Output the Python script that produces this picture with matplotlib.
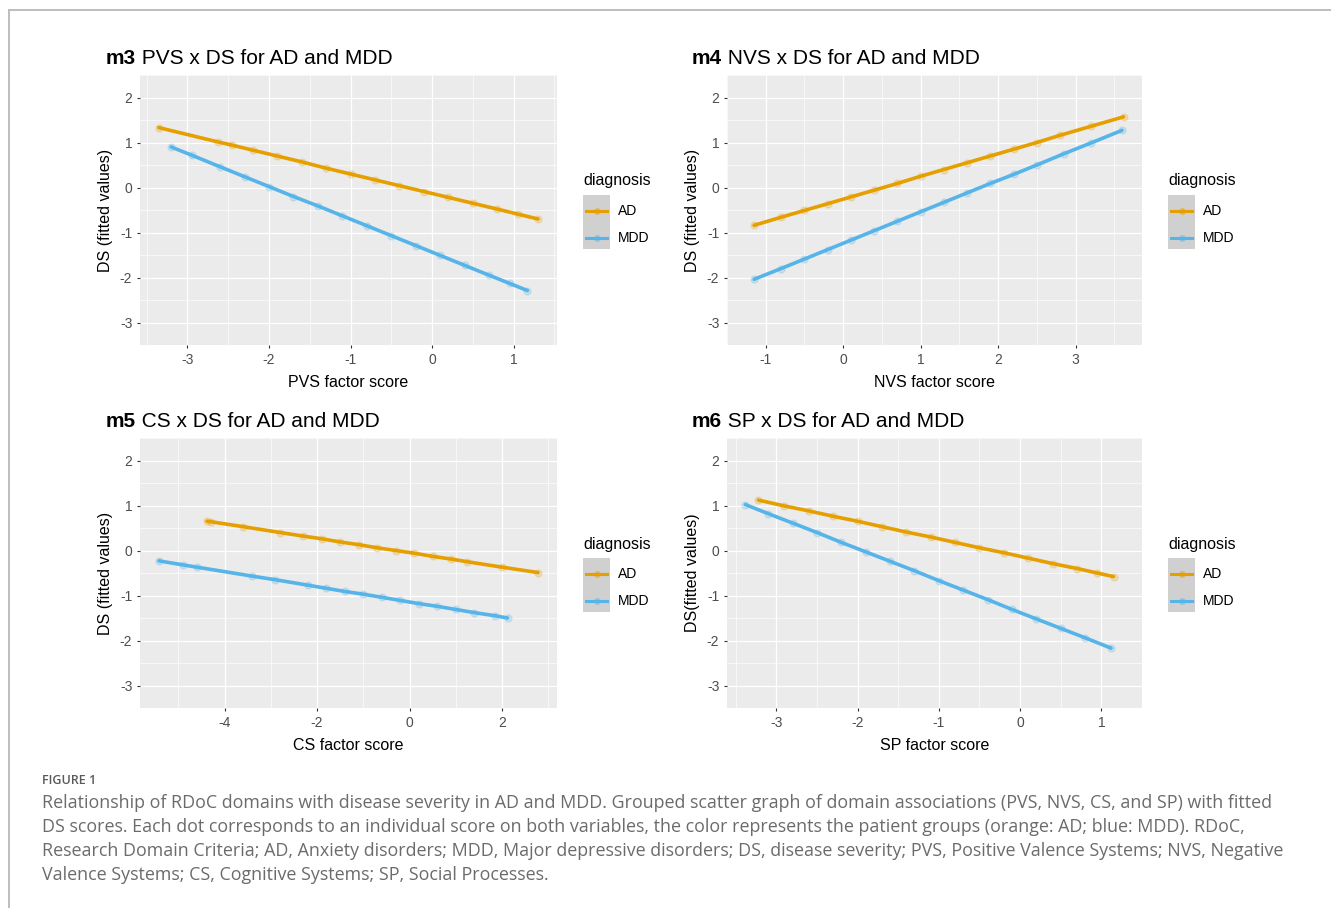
import matplotlib
matplotlib.use("Agg")
import matplotlib.pyplot as plt
from matplotlib.lines import Line2D
from matplotlib.patches import Rectangle

#-Data----------------------------------------------
groups = ["AD", "MDD"]
group_colors = {"AD": "#E69F00", "MDD": "#56B4E9"}

m3_ad_x = [-3.35, -2.62, -2.45, -2.2, -1.9, -1.6, -1.3, -1.0, -0.7, -0.4, -0.1, 0.2, 0.5, 0.8, 1.05, 1.3]
m3_ad_y = [1.33, 1.01, 0.94, 0.83, 0.70, 0.57, 0.43, 0.30, 0.17, 0.04, -0.09, -0.22, -0.35, -0.48, -0.59, -0.70]
m3_mdd_x = [-3.2, -2.95, -2.6, -2.3, -2.0, -1.7, -1.4, -1.1, -0.8, -0.5, -0.2, 0.1, 0.4, 0.7, 0.95, 1.17]
m3_mdd_y = [0.90, 0.72, 0.46, 0.24, 0.02, -0.20, -0.41, -0.63, -0.85, -1.07, -1.29, -1.51, -1.73, -1.95, -2.13, -2.29]

m4_ad_x = [-1.15, -0.8, -0.5, -0.2, 0.1, 0.4, 0.7, 1.0, 1.3, 1.6, 1.9, 2.2, 2.5, 2.8, 3.2, 3.62]
m4_ad_y = [-0.84, -0.66, -0.51, -0.36, -0.21, -0.06, 0.09, 0.25, 0.40, 0.55, 0.70, 0.85, 1.00, 1.16, 1.36, 1.57]
m4_mdd_x = [-1.15, -0.8, -0.5, -0.2, 0.1, 0.4, 0.7, 1.0, 1.3, 1.6, 1.9, 2.2, 2.5, 2.85, 3.2, 3.6]
m4_mdd_y = [-2.04, -1.80, -1.59, -1.38, -1.17, -0.96, -0.75, -0.54, -0.33, -0.12, 0.09, 0.29, 0.50, 0.75, 0.99, 1.27]

m5_ad_x = [-4.38, -4.3, -3.6, -2.8, -2.3, -1.9, -1.5, -1.1, -0.7, -0.3, 0.1, 0.5, 0.9, 1.25, 2.0, 2.78]
m5_ad_y = [0.65, 0.64, 0.53, 0.40, 0.32, 0.26, 0.19, 0.13, 0.06, 0.00, -0.06, -0.13, -0.19, -0.25, -0.37, -0.49]
m5_mdd_x = [-5.42, -4.9, -4.6, -3.4, -2.9, -2.2, -1.8, -1.4, -1.0, -0.6, -0.2, 0.2, 0.6, 1.0, 1.4, 1.85, 2.12]
m5_mdd_y = [-0.23, -0.32, -0.37, -0.57, -0.65, -0.77, -0.84, -0.91, -0.97, -1.04, -1.11, -1.18, -1.24, -1.31, -1.38, -1.45, -1.50]

m6_ad_x = [-3.22, -2.9, -2.6, -2.3, -2.0, -1.7, -1.4, -1.1, -0.8, -0.5, -0.2, 0.1, 0.4, 0.7, 0.95, 1.15]
m6_ad_y = [1.12, 0.99, 0.88, 0.76, 0.65, 0.53, 0.41, 0.30, 0.18, 0.06, -0.05, -0.17, -0.29, -0.40, -0.50, -0.58]
m6_mdd_x = [-3.38, -3.1, -2.8, -2.5, -2.2, -1.9, -1.6, -1.3, -1.0, -0.7, -0.4, -0.1, 0.2, 0.5, 0.8, 1.12]
m6_mdd_y = [1.02, 0.82, 0.61, 0.40, 0.18, -0.03, -0.24, -0.45, -0.67, -0.88, -1.09, -1.31, -1.52, -1.73, -1.94, -2.17]

panel_tags = ["m3", "m4", "m5", "m6"]
panel_titles = [" PVS x DS for AD and MDD", " NVS x DS for AD and MDD",
                " CS x DS for AD and MDD", " SP x DS for AD and MDD"]
x_labels = ["PVS factor score", "NVS factor score", "CS factor score", "SP factor score"]
y_labels = ["DS (fitted values)", "DS (fitted values)", "DS (fitted values)", "DS(fitted values)"]
x_ticks = [[-3, -2, -1, 0, 1], [-1, 0, 1, 2, 3], [-4, -2, 0, 2], [-3, -2, -1, 0, 1]]
y_ticks = [-3, -2, -1, 0, 1, 2]

series = [
    {"AD": (m3_ad_x, m3_ad_y), "MDD": (m3_mdd_x, m3_mdd_y)},
    {"AD": (m4_ad_x, m4_ad_y), "MDD": (m4_mdd_x, m4_mdd_y)},
    {"AD": (m5_ad_x, m5_ad_y), "MDD": (m5_mdd_x, m5_mdd_y)},
    {"AD": (m6_ad_x, m6_ad_y), "MDD": (m6_mdd_x, m6_mdd_y)},
]

caption_head = "FIGURE 1"
caption_lines = [
    "Relationship of RDoC domains with disease severity in AD and MDD. Grouped scatter graph of domain associations (PVS, NVS, CS, and SP) with fitted",
    "DS scores. Each dot corresponds to an individual score on both variables, the color represents the patient groups (orange: AD; blue: MDD). RDoC,",
    "Research Domain Criteria; AD, Anxiety disorders; MDD, Major depressive disorders; DS, disease severity; PVS, Positive Valence Systems; NVS, Negative",
    "Valence Systems; CS, Cognitive Systems; SP, Social Processes.",
]
#---------------------------------------------------

W, H = 1331, 908
plt.rcParams["font.family"] = ["Liberation Sans", "DejaVu Sans"]
plt.rcParams["axes.unicode_minus"] = False
fig = plt.figure(figsize=(W / 100, H / 100), dpi=100, facecolor="white")

def fx(px):
    return px / W

def fy(py):
    return 1 - py / H

# panel boxes in pixels: left, top, right, bottom
boxes = [(140, 75, 557, 345), (727, 75, 1142, 345),
         (140, 438, 557, 708), (727, 438, 1142, 708)]
title_pos = [(106, 64), (692, 64), (106, 427), (692, 427)]

for i, (l, t, r, b) in enumerate(boxes):
    ax = fig.add_axes([fx(l), fy(b), fx(r - l), (b - t) / H])
    ax.set_facecolor("#EBEBEB")
    for s in ax.spines.values():
        s.set_visible(False)
    for g in groups:
        xs, ys = series[i][g]
        ax.plot(xs, ys, color=group_colors[g], lw=2.6, solid_capstyle="round", zorder=3)
        ax.plot(xs, ys, "o", color=group_colors[g], ms=5, alpha=0.22, mew=1, zorder=4)
    ax.set_ylim(-3.25, 2.25)
    ax.margins(x=0.05)
    ax.set_xticks(x_ticks[i])
    ax.set_yticks(y_ticks)
    xt = x_ticks[i]
    step = xt[1] - xt[0]
    ax.set_xticks([v + step / 2 for v in [xt[0] - step] + xt], minor=True)
    ax.set_yticks([v + 0.5 for v in [-4] + y_ticks], minor=True)
    ax.set_xlim(ax.get_xlim())
    ax.grid(which="major", color="white", lw=0.9)
    ax.grid(which="minor", color="white", lw=0.45)
    ax.set_axisbelow(True)
    ax.tick_params(which="major", length=2.5, width=0.8, color="#333333",
                   labelcolor="#4D4D4D", labelsize=10, pad=3)
    ax.tick_params(which="minor", length=0)
    ax.set_xlabel(x_labels[i], fontsize=11.5, labelpad=6)
    ax.set_ylabel(y_labels[i], fontsize=11.5, labelpad=5)

    tx, ty = title_pos[i]
    tag = fig.text(fx(tx), fy(ty), panel_tags[i], fontsize=15, fontweight="bold", va="baseline")
    fig.canvas.draw()
    ax.annotate(panel_titles[i], xy=(1, 0), xycoords=tag, va="bottom", fontsize=15,
                annotation_clip=False)

    # legend drawn by hand, ggplot style
    lx = r + 26
    fig.text(fx(lx), fy(t + 106), "diagnosis", fontsize=11.5, va="center")
    fig.patches.append(Rectangle((fx(lx), fy(t + 174)), fx(27), 54 / H,
                                 transform=fig.transFigure, facecolor="#D0D0D0",
                                 edgecolor="none"))
    for k, g in enumerate(groups):
        yk = t + 136 + k * 27
        fig.add_artist(Line2D([fx(lx + 3), fx(lx + 24)], [fy(yk), fy(yk)],
                              transform=fig.transFigure, color=group_colors[g], lw=2.2))
        fig.add_artist(Line2D([fx(lx + 13.5)], [fy(yk)], transform=fig.transFigure,
                              marker="o", ms=4, color=group_colors[g], alpha=0.4))
        fig.text(fx(lx + 35), fy(yk), g, fontsize=10, va="center")

# page frame lines
fig.add_artist(Line2D([fx(9), fx(9)], [fy(10), 0], transform=fig.transFigure,
                      color="#BDBDBD", lw=1.4))
fig.add_artist(Line2D([fx(9), 1], [fy(10), fy(10)], transform=fig.transFigure,
                      color="#BDBDBD", lw=1.4))

# caption
fig.text(fx(42), fy(780), caption_head, fontsize=9, color="#5A5A5A", va="center",
         family=["Open Sans", "DejaVu Sans"], fontweight="semibold")
for k, line in enumerate(caption_lines):
    fig.text(fx(42), fy(803 + 24 * k), line, fontsize=12.9, color="#6B6B6B", va="center",
             family=["Open Sans", "DejaVu Sans"])

fig.savefig("out.png", dpi=100, facecolor="white")
